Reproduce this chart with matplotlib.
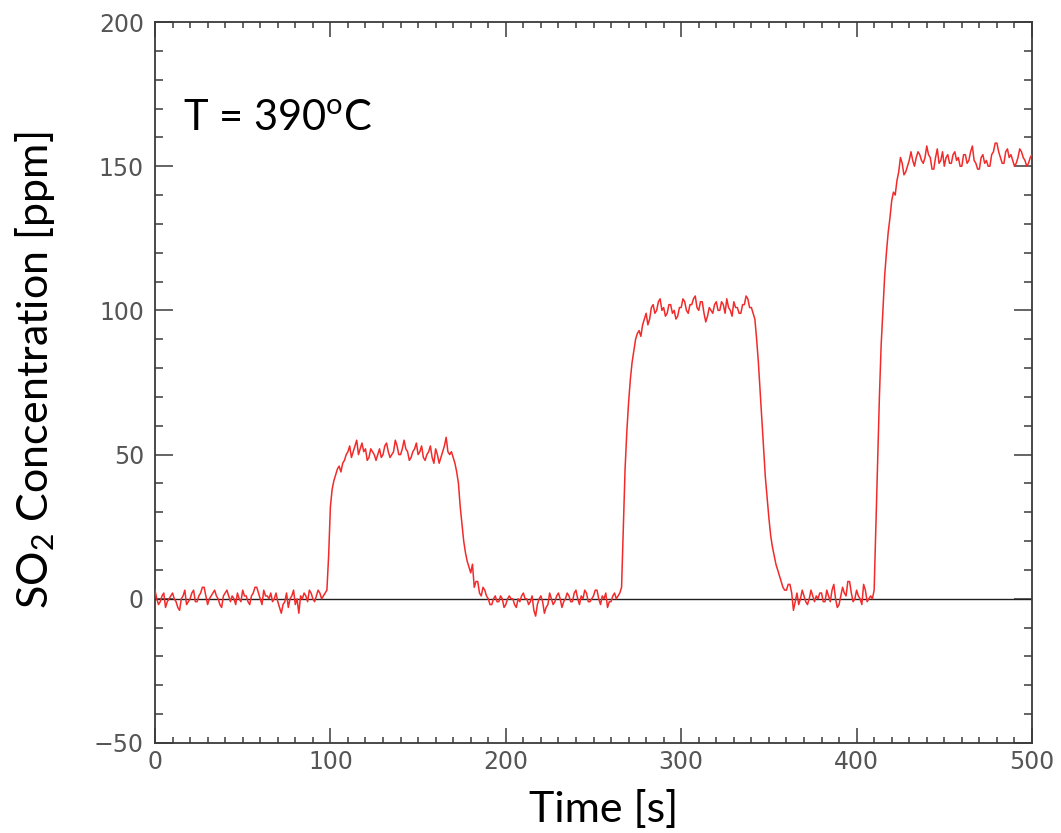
import numpy as np
import matplotlib
matplotlib.use("Agg")
import matplotlib.pyplot as plt
from matplotlib.ticker import MultipleLocator

plt.rcParams['mathtext.fontset'] = 'custom'
plt.rcParams['mathtext.rm'] = 'Lato'
plt.rcParams['mathtext.it'] = 'Lato:italic'

# ---- data (1 s steps, t = 0 ... 500 s) ----
baseline_1 = [3, 0, -2, -1, 1, 2, -3, -1, 0, 1,
              2, 0, -1, -3, -4, 0, 1, 3, -2, -1,
              0, 2, 3, -1, -1, 1, 2, 4, 4, 1,
              -2, 0, 1, 2, 3, 1, 0, -2, -3, 1,
              2, 3, 1, -1, 1, 0, -2, 2, 0, -1,
              3, 1, 1, -1, -2, 1, 2, 4, 4, 2,
              0, -2, 3, 1, 1, 0, 2, -1, 0, 2,
              -1, -3, -5, -2, -1, 2, -3, 0, 1, 3,
              -2, 0, -5, 1, 0, 2, 1, -1, 3, 2,
              0, -1, 1, 3, 2, 0, 1, 2]
pulse_50 = [3, 15, 32, 38, 41, 43, 45, 46, 44, 47,
            48, 50, 51, 53, 49, 51, 53, 55, 50, 52,
            54, 51, 52, 48, 49, 52, 51, 50, 48, 50,
            52, 49, 50, 53, 54, 51, 49, 50, 51, 55,
            53, 50, 50, 52, 55, 52, 51, 48, 49, 51,
            52, 54, 50, 51, 53, 49, 48, 50, 51, 53,
            49, 47, 52, 50, 47, 49, 51, 53, 56, 51,
            50, 51, 49, 47]
baseline_2 = [44, 40, 32, 26, 20, 16, 13, 11, 9, 12,
              4, 6, 6, 2, 1, 4, 3, 1, 0, -2,
              -2, 0, 1, -1, -1, 1, 0, -3, -2, 0,
              1, 0, 0, -2, -3, 0, -1, 1, 2, 0,
              0, -2, -1, 1, -4, -6, -2, 0, 1, -1,
              -5, -3, -2, 2, 0, -2, -1, 1, 2, 0,
              -3, -1, 0, 2, 1, -1, -1, 2, 3, 0,
              -2, 1, 0, 3, 2, -1, -1, 0, 1, 3,
              3, 0, -2, 1, 0, 2, -3, -1, -1, 1,
              2, 0, 1, 2]
pulse_100 = [4, 25, 45, 58, 68, 76, 82, 86, 90, 92,
             93, 91, 95, 97, 99, 95, 97, 101, 102, 99,
             100, 103, 104, 100, 101, 98, 99, 102, 102, 99,
             100, 97, 98, 101, 101, 104, 103, 100, 99, 102,
             102, 104, 105, 101, 100, 103, 103, 99, 96, 98,
             101, 100, 99, 102, 103, 100, 100, 103, 102, 99,
             104, 101, 100, 98, 103, 101, 101, 99, 99, 102,
             102, 105, 104, 101, 101, 99]
baseline_3 = [97, 90, 82, 72, 62, 52, 42, 35, 28, 22,
              18, 15, 12, 10, 8, 6, 4, 3, 3, 5,
              5, 2, -4, -1, 2, -2, 0, 3, 1, -1,
              -2, 0, 3, 1, -1, 1, 0, 2, 2, -1,
              -1, 3, 1, -1, 3, 5, 0, -3, -2, 1,
              4, 2, 1, 6, 6, 2, -1, 0, 3, 1,
              0, -2, 5, 3, -1, 0, 1, 0]
pulse_150 = [3, 25, 48, 70, 88, 100, 112, 120, 127, 132,
             138, 141, 140, 145, 148, 153, 151, 147, 148, 150,
             152, 155, 152, 150, 153, 155, 154, 152, 151, 153,
             157, 154, 153, 149, 149, 153, 156, 151, 152, 155,
             150, 153, 154, 151, 151, 154, 155, 152, 153, 150,
             150, 154, 154, 151, 152, 155, 157, 152, 151, 149,
             149, 153, 154, 151, 152, 150, 150, 154, 155, 158,
             158, 155, 153, 151, 151, 155, 156, 153, 154, 152,
             150, 151, 153, 156, 155, 153, 152, 150, 151, 153,
             154]
so2_ppm = np.array(baseline_1 + pulse_50 + baseline_2 + pulse_100 + baseline_3 + pulse_150,
                   dtype=float)
time_s = np.arange(len(so2_ppm))  # 1 s sampling

fig = plt.figure(figsize=(10.61, 8.33), dpi=100)
ax = fig.add_axes([155/1061, 1-743/833, 877/1061, 721/833])

ax.axhline(0, color='#202020', lw=1.0, zorder=2)
ax.plot(time_s, so2_ppm, color='#f22a2a', lw=1.1, zorder=3)

ax.set_xlim(0, 500)
ax.set_ylim(-50, 200)
ax.xaxis.set_major_locator(MultipleLocator(100))
ax.xaxis.set_minor_locator(MultipleLocator(10))
ax.yaxis.set_major_locator(MultipleLocator(50))
ax.yaxis.set_minor_locator(MultipleLocator(10))

spine_c = '#3a3a3a'
for s in ax.spines.values():
    s.set_color(spine_c)
    s.set_linewidth(1.3)

ax.tick_params(axis='both', which='both', direction='in', top=True, right=True,
               color=spine_c, width=1.1, labelcolor='#555555', labelsize=17)
ax.tick_params(axis='x', which='major', length=10.5, pad=5)
ax.tick_params(axis='x', which='minor', length=4.3)
ax.tick_params(axis='y', which='major', length=13, pad=8)
ax.tick_params(axis='y', which='minor', length=5.5)
ax.xaxis.set_major_formatter(plt.FuncFormatter(lambda v, p: f"{int(v)}"))
ax.yaxis.set_major_formatter(plt.FuncFormatter(lambda v, p: f"{int(v)}".replace('-', '\u2212')))

fig.text(604/1061, 1-810/833, "Time [s]", family='Lato', fontsize=31,
         ha='center', va='center', color='black')
fig.text(35/1061, 1-370/833, "SO$_2$ Concentration [ppm]", family='Lato',
         fontsize=31, rotation=90, ha='center', va='center', color='black')
fig.text(183/1061, 1-118/833, "T = 390$^{\\rm o}$C", family='Lato', fontsize=30,
         ha='left', va='center', color='black')

fig.savefig("out.png", dpi=100)
